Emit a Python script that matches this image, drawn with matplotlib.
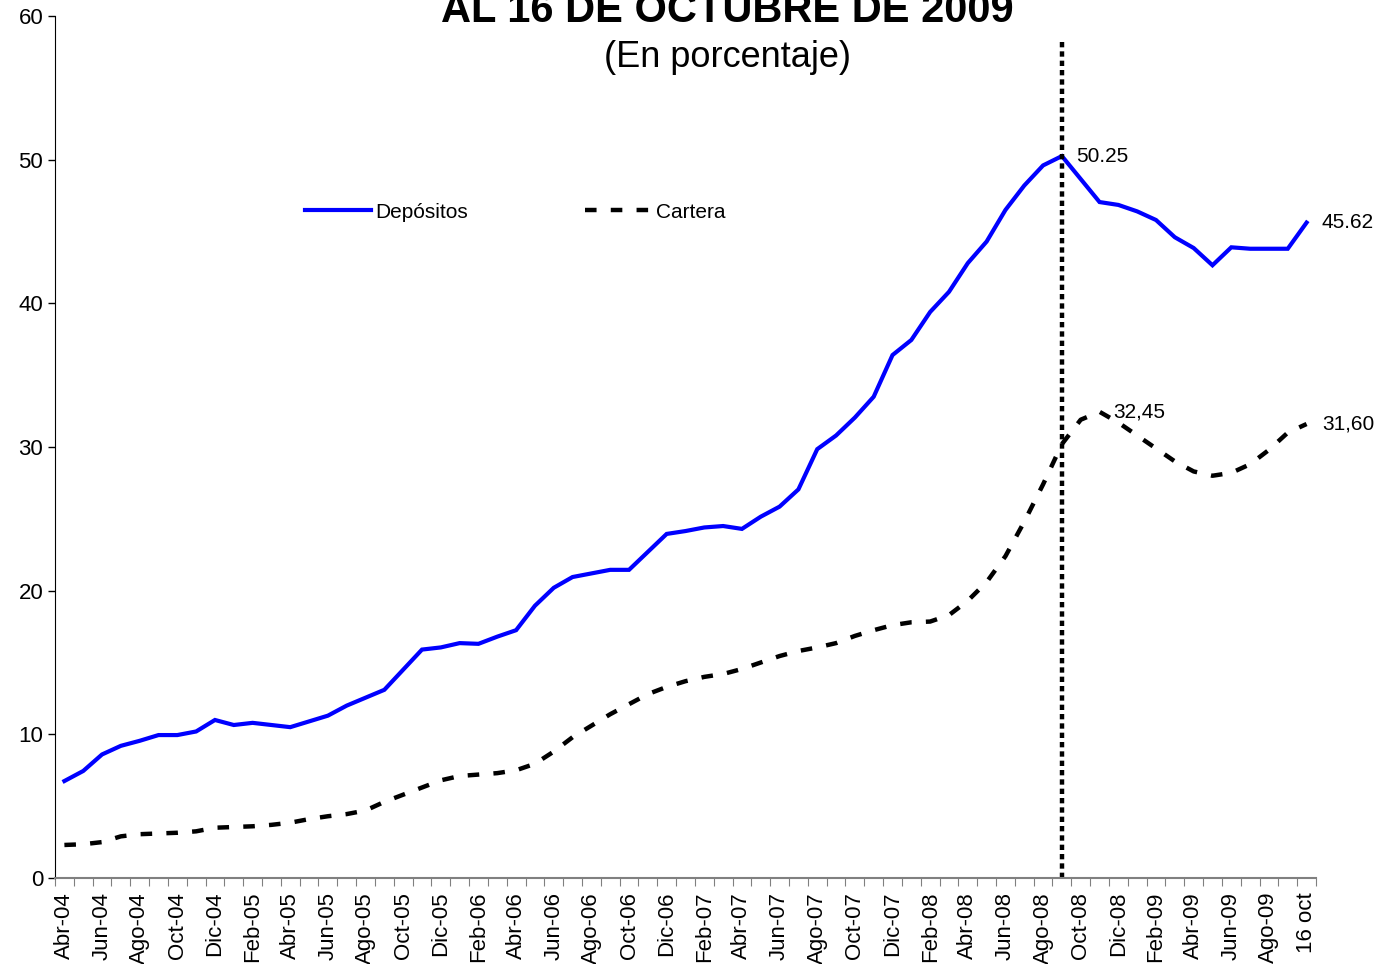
import numpy as np
import matplotlib.pyplot as plt

plt.rcParams['font.family'] = ['Liberation Sans', 'DejaVu Sans']

# Meses de Abr-04 a Sep-09, mas el dato al 16 de octubre
meses = ['Abr', 'May', 'Jun', 'Jul', 'Ago', 'Sep', 'Oct', 'Nov', 'Dic', 'Ene', 'Feb', 'Mar']
categorias = []
anio, m = 4, 0
while not (anio == 9 and m == 6):
    categorias.append('%s-%02d' % (meses[m], anio))
    m += 1
    if m == 12:
        m = 0
    if meses[m] == 'Ene':
        anio += 1
categorias.append('16 oct')

depositos = [6.75, 7.45, 8.6, 9.2, 9.55, 9.95, 9.95, 10.2, 11.0, 10.65,
             10.8, 10.65, 10.5, 10.9, 11.3, 12.0, 12.55, 13.1, 14.5, 15.9,
             16.05, 16.35, 16.3, 16.8, 17.25, 18.95, 20.2, 20.95, 21.2, 21.45,
             21.45, 22.7, 23.95, 24.15, 24.4, 24.5, 24.3, 25.15, 25.85, 27.05,
             29.85, 30.8, 32.05, 33.5, 36.4, 37.45, 39.4, 40.8, 42.8, 44.3,
             46.5, 48.2, 49.6, 50.25, 48.65, 47.05, 46.85, 46.4, 45.8, 44.6,
             43.85, 42.65, 43.9, 43.8, 43.8, 43.8, 45.62]

cartera = [2.3, 2.35, 2.5, 2.9, 3.05, 3.1, 3.15, 3.25, 3.5, 3.55,
           3.6, 3.7, 3.85, 4.1, 4.3, 4.45, 4.7, 5.3, 5.8, 6.3,
           6.8, 7.1, 7.2, 7.3, 7.5, 7.95, 8.8, 9.8, 10.6, 11.4,
           12.1, 12.8, 13.3, 13.7, 14.0, 14.2, 14.55, 15.0, 15.45, 15.8,
           16.05, 16.35, 16.85, 17.25, 17.6, 17.8, 17.85, 18.3, 19.3, 20.6,
           22.4, 24.8, 27.4, 30.2, 31.9, 32.45, 31.7, 30.8, 29.9, 29.0,
           28.3, 28.0, 28.2, 28.8, 29.8, 31.0, 31.6]

x = np.arange(len(categorias))

fig = plt.figure(figsize=(13.78, 9.64), dpi=100)
ax = fig.add_axes([0.0399, 0.0892, 0.9151, 0.8942])

ax.plot(x, depositos, color='#0000ff', lw=3, label='Depósitos', solid_joinstyle='miter')
ax.plot(x, cartera, color='black', lw=3.2, linestyle=(0, (2.6, 3.2)), label='Cartera')

# linea vertical en Sep-08
i_sep = categorias.index('Sep-08')
ax.axvline(i_sep, ymin=0, ymax=0.9745, color='black', lw=3.2, linestyle=(0, (1.2, 0.9)))

# etiquetas de valores
ax.annotate('50.25', (i_sep, depositos[i_sep]), xytext=(10, 0), textcoords='offset points',
            va='center', fontsize=15)
ax.annotate('45.62', (x[-1], depositos[-1]), xytext=(11, 0), textcoords='offset points',
            va='center', fontsize=15)
i_max = int(np.argmax(cartera))
ax.annotate('32,45', (i_max, cartera[i_max]), xytext=(10, 0), textcoords='offset points',
            va='center', fontsize=15)
ax.annotate('31,60', (x[-1], cartera[-1]), xytext=(11, 0), textcoords='offset points',
            va='center', fontsize=15)

ax.set_xlim(-0.5, len(categorias) - 0.5)
ax.set_ylim(0, 60)
ax.set_yticks(np.arange(0, 61, 10))
ax.tick_params(axis='y', labelsize=16, length=5, width=1, direction='out')

# marcas entre categorias, etiquetas cada dos meses
ax.set_xticks(np.arange(-0.5, len(categorias), 1.0))
ax.set_xticklabels([])
ax.tick_params(axis='x', which='major', length=6, color='#808080', direction='out')
pos = list(x[::2])
ax.set_xticks(pos, minor=True)
ax.set_xticklabels([categorias[i] for i in pos], minor=True, rotation=90, fontsize=16)
ax.tick_params(axis='x', which='minor', length=0, pad=10)

for s in ['top', 'right']:
    ax.spines[s].set_visible(False)
ax.spines['bottom'].set_color('#808080')
ax.spines['bottom'].set_linewidth(1.5)
ax.spines['left'].set_color('black')

ax.legend(loc='center left', bbox_to_anchor=(0.198, 0.7726), ncol=2, frameon=False,
          fontsize=15, handlelength=3.2, handletextpad=0.2, columnspacing=5.6,
          borderpad=0, borderaxespad=0)

fig.text(0.5276, 0.977, 'AL 16 DE OCTUBRE DE 2009', ha='center', va='baseline',
         fontsize=30, fontweight='bold')
fig.text(0.5276, 0.931, '(En porcentaje)', ha='center', va='baseline', fontsize=26)

fig.savefig('out.png', dpi=100)
